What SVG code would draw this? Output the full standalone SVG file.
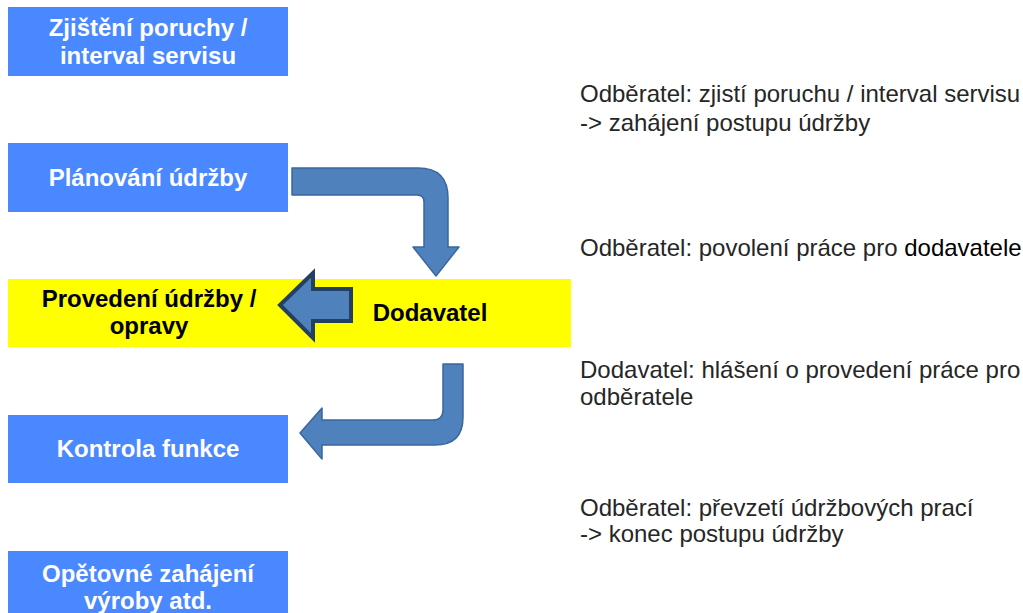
<svg xmlns="http://www.w3.org/2000/svg" width="1023" height="613" viewBox="0 0 1023 613">
<style>
.box{fill:#4A88FF}
.wt{font-family:"Liberation Sans",Arial,sans-serif;font-weight:bold;font-size:24px;fill:#ffffff;text-anchor:middle}
.bt{font-family:"Liberation Sans",Arial,sans-serif;font-weight:bold;font-size:24px;fill:#000000;text-anchor:middle}
.nt{font-family:"Liberation Sans",Arial,sans-serif;font-size:24px;fill:#262626}
.arr{fill:#4F81BD;stroke:#3A679E;stroke-width:1.5;stroke-linejoin:round}
.arr2{fill:#4F81BD;stroke:#243F60;stroke-width:4;stroke-linejoin:miter}
</style>
<rect width="1023" height="613" fill="#ffffff"/>
<g id="n1">
<rect class="box" x="8" y="7" width="280" height="69"/>
<text class="wt" x="148" y="36">Zjištění poruchy /</text>
<text class="wt" x="148" y="64">interval servisu</text>
</g>
<g id="n2">
<rect class="box" x="8" y="143" width="280" height="69"/>
<text class="wt" x="148" y="186">Plánování údržby</text>
</g>
<g id="n3">
<rect x="8" y="279" width="563" height="68" fill="#FFFF00"/>
<text class="bt" x="149" y="307">Provedení údržby /</text>
<text class="bt" x="149" y="334">opravy</text>
<text class="bt" x="430" y="321">Dodavatel</text>
</g>
<g id="n4">
<rect class="box" x="8" y="415" width="280" height="68"/>
<text class="wt" x="148" y="457">Kontrola funkce</text>
</g>
<g id="n5">
<rect class="box" x="8" y="551" width="280" height="62"/>
<text class="wt" x="148" y="582">Opětovné zahájení</text>
<text class="wt" x="148" y="609">výroby atd.</text>
</g>
<g id="connectors">
<path class="arr" d="M292,168 L418,168 Q448,168 448,198 L448,247 L459,247 L436,276 L413,247 L424,247 L424,202 Q424,195 417,195 L292,195 Z"/>
<path class="arr2" d="M351,289 L313,289 L313,273 L280,305 L313,338 L313,321 L351,321 Z"/>
<path class="arr" d="M443,364 L463,364 L463,417 Q463,445 435,445 L322,445 L322,459 L300,433 L322,408 L322,420 L433,420 Q443,420 443,410 Z"/>
</g>
<g id="notes">
<text class="nt" x="580" y="102">Odběratel: zjistí poruchu / interval servisu</text>
<text class="nt" x="580" y="131">-&gt; zahájení postupu údržby</text>
<text class="nt" x="580" y="256">Odběratel: povolení práce pro <tspan fill="#000000">dodavatele</tspan></text>
<text class="nt" x="580" y="378" fill="#000000">Dodavatel: hlášení o provedení práce pro</text>
<text class="nt" x="580" y="405">odběratele</text>
<text class="nt" x="580" y="516">Odběratel: převzetí údržbových prací</text>
<text class="nt" x="580" y="542">-&gt; konec postupu údržby</text>
</g>
</svg>
